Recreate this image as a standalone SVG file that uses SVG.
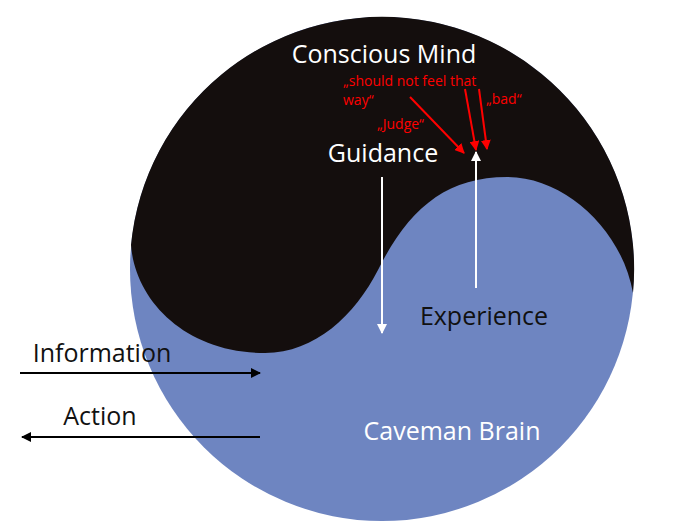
<svg xmlns="http://www.w3.org/2000/svg" width="699" height="529" viewBox="0 0 699 529">
<defs>
<style>
.t{font-family:"Open Sans","Liberation Sans",sans-serif;font-size:25px}
.w{fill:#ffffff}
.k{fill:#111111}
.r{font-family:"Open Sans","Liberation Sans",sans-serif;font-size:14px;fill:#ff0000}
.lk{stroke:#000;stroke-width:2;fill:none}
.lw{stroke:#fff;stroke-width:2;fill:none}
.lr{stroke:#ff0000;stroke-width:2;fill:none}
</style>
<marker id="ak" viewBox="0 0 10 10" refX="9" refY="5" markerWidth="5" markerHeight="5" orient="auto" markerUnits="strokeWidth"><path d="M0,0 L10,5 L0,10 z" fill="#000"/></marker>
<marker id="aw" viewBox="0 0 10 10" refX="9" refY="5" markerWidth="5" markerHeight="5" orient="auto" markerUnits="strokeWidth"><path d="M0,0 L10,5 L0,10 z" fill="#fff"/></marker>
<marker id="ar" viewBox="0 0 10 10" refX="9" refY="5" markerWidth="5" markerHeight="5" orient="auto" markerUnits="strokeWidth"><path d="M0,0 L10,5 L0,10 z" fill="#ff0000"/></marker>
</defs>
<rect width="699" height="529" fill="#fff"/>
<g id="yinyang">
<circle cx="382" cy="269" r="252" fill="#6e85c1"/>
<path d="M633,293 A252,252 0 1 0 131,245 C135,300 185,353 265,353 C315,353 355,315 378,270 C408,210 445,177 507,177 C565,177 622,230 633,293 Z" fill="#140e0d"/>
</g>
<g id="conscious-mind"><text class="t w" x="384" y="63" text-anchor="middle">Conscious Mind</text></g>
<g id="caveman-brain"><text class="t w" x="452" y="440" text-anchor="middle">Caveman Brain</text></g>
<g id="guidance"><text class="t w" x="383" y="162" text-anchor="middle">Guidance</text></g>
<g id="experience"><text class="t k" x="484" y="325" text-anchor="middle">Experience</text></g>
<g id="information"><text class="t k" x="102" y="362" text-anchor="middle">Information</text></g>
<g id="action"><text class="t k" x="100" y="425" text-anchor="middle">Action</text></g>
<g id="judgements">
<text class="r" x="343" y="86">„should not feel that</text>
<text class="r" x="343" y="105">way“</text>
<text class="r" x="377" y="129">„Judge“</text>
<text class="r" x="486" y="104">„bad“</text>
</g>
<g id="connectors">
<line class="lk" x1="20" y1="373" x2="260" y2="373" marker-end="url(#ak)"/>
<line class="lk" x1="260" y1="437" x2="22" y2="437" marker-end="url(#ak)"/>
<line class="lw" x1="382" y1="177" x2="382" y2="333" marker-end="url(#aw)"/>
<line class="lw" x1="476" y1="288" x2="476" y2="152" marker-end="url(#aw)"/>
<line class="lr" x1="410" y1="97" x2="464" y2="153" marker-end="url(#ar)"/>
<line class="lr" x1="465" y1="89" x2="476" y2="150" marker-end="url(#ar)"/>
<line class="lr" x1="479" y1="89" x2="487" y2="149" marker-end="url(#ar)"/>
</g>
</svg>
